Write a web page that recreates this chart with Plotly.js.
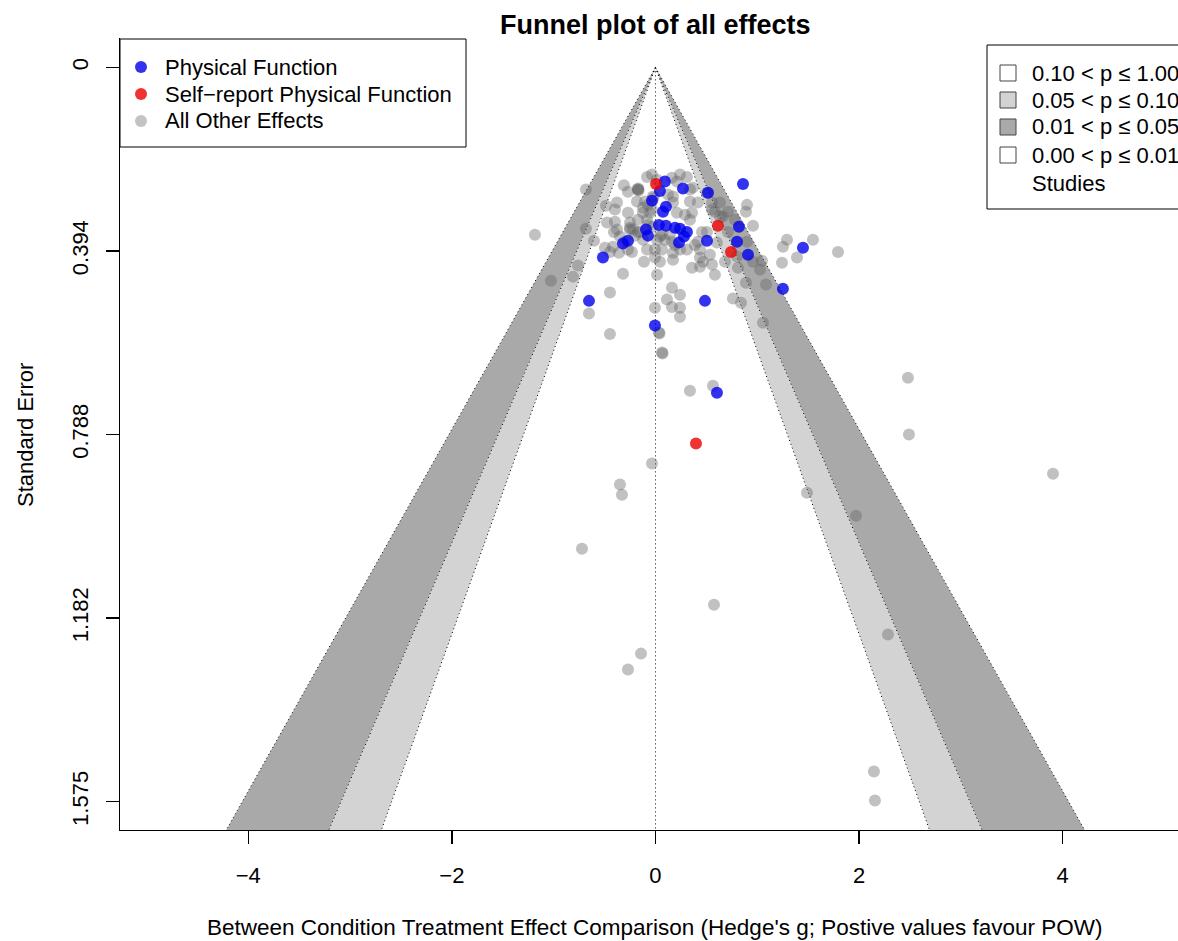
<!DOCTYPE html>
<html>
<head>
<meta charset="utf-8">
<script src="https://cdn.plot.ly/plotly-3.0.1.min.js"></script>
<style>
html,body{margin:0;padding:0;background:#fff;overflow:hidden;}
#chart{width:1178px;height:941px;}
</style>
</head>
<body>
<div id="chart"></div>
<script>
// ---------------- data (Hedge's g, standard error) ----------------
const physG  = [0.86, 0.093, 0.27, 0.516, 0.044, -0.034, 0.103, 0.074, 0.034, 0.103, 0.192, 0.241, -0.093, -0.074, 0.309, 0.28, 0.231, -0.27, -0.319, 0.506, 0.82, 0.801, 0.909, 1.449, -0.516, 1.252, -0.653, 0.486, -0.005, 0.604];
const physSE = [0.250, 0.245, 0.260, 0.269, 0.265, 0.286, 0.299, 0.310, 0.338, 0.340, 0.344, 0.346, 0.348, 0.361, 0.353, 0.363, 0.376, 0.372, 0.378, 0.372, 0.342, 0.374, 0.402, 0.387, 0.408, 0.475, 0.501, 0.501, 0.554, 0.698];

const selfG  = [0.005, 0.614, 0.742, 0.398];
const selfSE = [0.250, 0.340, 0.396, 0.807];

const otherG = [-0.683, -0.31, -0.27, -0.172, -0.165, -0.083, -0.034, 0.015, 0.241, 0.309,
  0.368, 0.172, -0.025, -0.02, -0.103, 0.339, 0.417, 0.506, -0.378, -0.486,
  -0.398, -0.182, -0.123, -0.27, -0.123, -0.054, 0.172, 0.211, 0.359, 0.555,
  0.634, 0.555, 0.712, 0.663, 0.781, 0.899, 0.889, 0.339, -0.083, -0.172,
  -0.25, -0.476, -0.398, -0.408, -0.349, -0.221, -0.172, -0.25, -0.025, 0.064,
  0.162, 0.044, 0.015, -0.123, 0.457, 0.506, 0.417, 0.712, 0.604, 0.958,
  0.899, -0.604, -0.683, -1.184, -0.496, -0.447, -0.359, -0.417, -0.27, -0.231,
  -0.083, -0.005, 0.064, 0.172, 0.309, 0.241, 0.437, 0.535, 0.467, -0.113,
  0.044, 0.172, 0.359, 0.437, 0.555, 0.584, 0.015, -0.319, -0.761, -0.81,
  -1.027, 0.801, 0.81, 0.958, 1.046, 1.027, 1.252, 1.292, 1.243, 1.39,
  1.547, 1.793, 0.889, 1.086, 0.761, 0.84, 1.056, -0.447, -0.653, -0.447,
  0.162, 0.241, 0.113, 0.162, 0.241, -0.005, 0.241, 0.034, 0.04, 0.064,
  0.07, 0.339, 0.565, 2.48, 2.49, 3.905, -0.034, -0.349, -0.329, 1.488,
  1.97, -0.722, 0.575, 2.284, -0.142, -0.27, 2.146, 2.156,
  -0.172, -0.17, -0.25, -0.152, -0.201, -0.074, 0.093, 0.142, 0.192, -0.074,
  -0.034, 0.162, 0.211, 0.584, 0.634, 0.123, 0.29, 0.388, 0.437, 0.683,
  -0.005, -0.378, -0.3, 0.339];
const otherSE = [0.262, 0.253, 0.267, 0.262, 0.264, 0.235, 0.230, 0.241, 0.230, 0.235,
  0.258, 0.277, 0.277, 0.280, 0.288, 0.288, 0.290, 0.269, 0.290, 0.297,
  0.305, 0.288, 0.301, 0.312, 0.312, 0.312, 0.290, 0.312, 0.312, 0.290,
  0.290, 0.305, 0.310, 0.320, 0.327, 0.295, 0.310, 0.327, 0.327, 0.327,
  0.333, 0.333, 0.331, 0.353, 0.363, 0.348, 0.353, 0.348, 0.342, 0.359,
  0.374, 0.363, 0.370, 0.370, 0.353, 0.353, 0.374, 0.353, 0.376, 0.340,
  0.374, 0.372, 0.346, 0.359, 0.387, 0.396, 0.398, 0.385, 0.391, 0.396,
  0.391, 0.391, 0.391, 0.398, 0.391, 0.391, 0.391, 0.402, 0.417, 0.417,
  0.417, 0.413, 0.430, 0.428, 0.423, 0.445, 0.445, 0.443, 0.425, 0.449,
  0.458, 0.406, 0.430, 0.417, 0.415, 0.434, 0.385, 0.370, 0.419, 0.408,
  0.370, 0.396, 0.462, 0.466, 0.496, 0.505, 0.548, 0.483, 0.528, 0.572,
  0.473, 0.488, 0.498, 0.514, 0.516, 0.516, 0.535, 0.569, 0.571, 0.612,
  0.614, 0.694, 0.683, 0.666, 0.788, 0.872, 0.850, 0.895, 0.917, 0.913,
  0.962, 1.033, 1.153, 1.217, 1.258, 1.292, 1.511, 1.573,
  0.262, 0.260, 0.344, 0.353, 0.361, 0.338, 0.370, 0.359, 0.381, 0.295,
  0.305, 0.237, 0.245, 0.310, 0.320, 0.273, 0.316, 0.381, 0.408, 0.417,
  0.408, 0.348, 0.374, 0.262];

const yTickVals = [0, 0.3939, 0.7879, 1.1818, 1.5757];
const yTickText = ['0', '0.394', '0.788', '1.182', '1.575'];
const xTickVals = [-4, -2, 0, 2, 4];
const xTickText = ['\u22124', '\u22122', '0', '2', '4'];

const seriesNames = ['Physical Function', 'Self\u2212report Physical Function', 'All Other Effects'];
const contourLabels = ['0.10 < p \u2264 1.00', '0.05 < p \u2264 0.10', '0.01 < p \u2264 0.05', '0.00 < p \u2264 0.01', 'Studies'];
const zCrit = [1.645, 1.96, 2.576];   // two-sided p = .10, .05, .01

// ---------------- styling ----------------
const FONT = 'Liberation Sans, Arial, Helvetica, sans-serif';
const xRange = [-5.26, 5.133];
const yRange = [1.6365, -0.0631];
const W = 1178, H = 941, ML = 120, MR = 0, MT = 38, MB = 111;
const PW = W - ML - MR, PH = H - MT - MB;
const px = v => (v - ML) / PW;          // pixel -> paper x
const py = v => (H - MB - v) / PH;      // pixel -> paper y

const colPhys = 'rgba(0,0,235,0.8)';
const colSelf = 'rgba(235,0,0,0.8)';
const colOther = 'rgba(100,100,100,0.4)';
const colLight = '#d3d3d3';
const colDark = '#a9a9a9';

const B = yRange[0];
const traces = [];
// contour bands
function band(z1, z2, color, sign) {
  traces.push({
    x: [0, sign * z1 * B, sign * z2 * B, 0],
    y: [0, B, B, 0],
    mode: 'lines', fill: 'toself', fillcolor: color,
    line: {width: 0}, hoverinfo: 'skip', showlegend: false
  });
}
[-1, 1].forEach(s => {
  band(zCrit[1], zCrit[2], colDark, s);
  band(zCrit[0], zCrit[1], colLight, s);
});
// dotted boundaries
[-1, 1].forEach(s => zCrit.forEach(z => {
  traces.push({x: [0, s * z * B], y: [0, B], mode: 'lines',
    line: {color: '#000', width: 1, dash: '1px,3px'}, hoverinfo: 'skip', showlegend: false});
}));
traces.push({x: [0, 0], y: [0, B], mode: 'lines',
  line: {color: '#000', width: 1, dash: '1px,3px'}, hoverinfo: 'skip', showlegend: false});

// points
const mk = c => ({size: 12, color: c, line: {width: 0}});
traces.push({x: otherG, y: otherSE, mode: 'markers', marker: mk(colOther), name: seriesNames[2], showlegend: false});
traces.push({x: physG, y: physSE, mode: 'markers', marker: mk(colPhys), name: seriesNames[0], showlegend: false});
traces.push({x: selfG, y: selfSE, mode: 'markers', marker: mk(colSelf), name: seriesNames[1], showlegend: false});

// ---------------- legends (shapes + annotations) ----------------
const shapes = [];
const annotations = [];
// left legend
shapes.push({type: 'rect', xref: 'paper', yref: 'paper', x0: px(120), x1: px(466), y0: py(39), y1: py(147),
  line: {color: '#000', width: 1}, fillcolor: '#fff', layer: 'above'});
const leftRows = [67, 94, 121];
const leftCols = [colPhys, colSelf, colOther];
leftRows.forEach((r, i) => {
  shapes.push({type: 'circle', xref: 'paper', yref: 'paper', xsizemode: 'pixel', ysizemode: 'pixel',
    xanchor: px(141), yanchor: py(r), x0: -6, x1: 6, y0: -6, y1: 6,
    fillcolor: i === 2 ? 'rgba(195,195,195,1)' : leftCols[i], line: {width: 0}, layer: 'above'});
  annotations.push({xref: 'paper', yref: 'paper', x: px(163), y: py(r), xanchor: 'left', yanchor: 'middle',
    text: seriesNames[i], showarrow: false, font: {family: FONT, size: 22, color: '#000'}});
});
// right legend
shapes.push({type: 'rect', xref: 'paper', yref: 'paper', x0: px(987), x1: px(1200), y0: py(45), y1: py(209),
  line: {color: '#000', width: 1}, fillcolor: '#fff', layer: 'above'});
const rightRows = [73, 100, 127, 155, 183];
const sqFill = ['#ffffff', colLight, colDark, '#ffffff'];
rightRows.forEach((r, i) => {
  if (i < 4) {
    shapes.push({type: 'rect', xref: 'paper', yref: 'paper', x0: px(1000), x1: px(1016), y0: py(r + 8), y1: py(r - 8),
      fillcolor: sqFill[i], line: {color: '#444', width: 1}, layer: 'above'});
  }
  annotations.push({xref: 'paper', yref: 'paper', x: px(1030), y: py(r), xanchor: 'left', yanchor: 'middle',
    text: contourLabels[i], showarrow: false, font: {family: FONT, size: 22, color: '#000'}});
});

// titles
annotations.push({xref: 'x', yref: 'paper', x: 0, y: py(25), xanchor: 'center', yanchor: 'middle',
  text: '<b>Funnel plot of all effects</b>', showarrow: false, font: {family: FONT, size: 27, color: '#000'}});
annotations.push({xref: 'x', yref: 'paper', x: 0, y: py(927), xanchor: 'center', yanchor: 'middle',
  text: "Between Condition Treatment Effect Comparison (Hedge's g; Postive values favour POW)",
  showarrow: false, font: {family: FONT, size: 22.5, color: '#000'}});
annotations.push({xref: 'paper', yref: 'paper', x: px(25), y: py(435), xanchor: 'center', yanchor: 'middle',
  text: 'Standard Error', textangle: -90, showarrow: false, font: {family: FONT, size: 22, color: '#000'}});

const layout = {
  width: W, height: H, autosize: false,
  margin: {l: ML, r: MR, t: MT, b: MB, pad: 0},
  paper_bgcolor: '#fff', plot_bgcolor: '#fff',
  showlegend: false,
  font: {family: FONT, size: 22, color: '#000'},
  xaxis: {
    range: xRange, showgrid: false, zeroline: false,
    showline: true, linecolor: '#000', linewidth: 1.3,
    ticks: 'outside', ticklen: 13, tickcolor: '#000', tickwidth: 1.3,
    tickvals: xTickVals, ticktext: xTickText, ticklabelstandoff: 12,
    tickfont: {family: FONT, size: 22, color: '#000'}
  },
  yaxis: {
    range: yRange, showgrid: false, zeroline: false,
    showline: true, linecolor: '#000', linewidth: 1.3,
    ticks: 'outside', ticklen: 13, tickcolor: '#000', tickwidth: 1.3,
    tickvals: yTickVals, ticktext: yTickText, tickangle: -90, ticklabelstandoff: 9,
    tickfont: {family: FONT, size: 22, color: '#000'}
  },
  shapes: shapes,
  annotations: annotations
};

Plotly.newPlot('chart', traces, layout, {displayModeBar: false, staticPlot: true});
</script>
</body>
</html>
